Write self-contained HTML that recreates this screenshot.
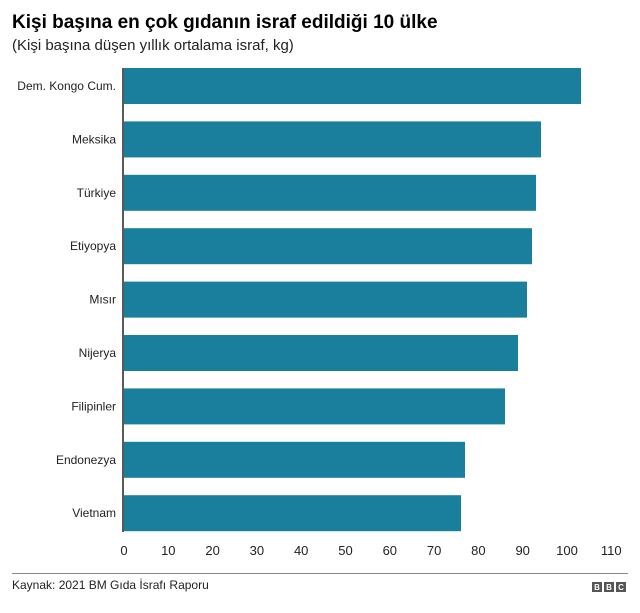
<!DOCTYPE html>
<html><head><meta charset="utf-8"><style>
body{margin:0;background:#fff;width:640px;height:608px;overflow:hidden;font-family:"Liberation Sans",Arial,sans-serif;}
</style></head><body>
<svg width="640" height="608" xmlns="http://www.w3.org/2000/svg" font-family="Liberation Sans, Arial, sans-serif">
<text x="12" y="28" font-size="19" font-weight="bold" fill="#000">Kişi başına en çok gıdanın israf edildiği 10 ülke</text>
<text x="12" y="50" font-size="15" fill="#222">(Kişi başına düşen yıllık ortalama israf, kg)</text>
<g fill="#1a7f9d">
<rect x="124" y="68" width="457" height="36"/>
<rect x="124" y="121.4" width="417" height="36"/>
<rect x="124" y="174.8" width="412" height="36"/>
<rect x="124" y="228.2" width="408" height="36"/>
<rect x="124" y="281.6" width="403" height="36"/>
<rect x="124" y="335" width="394" height="36"/>
<rect x="124" y="388.4" width="381" height="36"/>
<rect x="124" y="441.8" width="341" height="36"/>
<rect x="124" y="495.2" width="337" height="36"/>
</g>
<line x1="123" y1="68" x2="123" y2="532" stroke="#222" stroke-width="1.5"/>
<g font-size="12" fill="#222" text-anchor="end">
<text x="116" y="90">Dem. Kongo Cum.</text>
<text x="116" y="143.4">Meksika</text>
<text x="116" y="196.8">Türkiye</text>
<text x="116" y="250.2">Etiyopya</text>
<text x="116" y="303.6">Mısır</text>
<text x="116" y="357">Nijerya</text>
<text x="116" y="410.4">Filipinler</text>
<text x="116" y="463.8">Endonezya</text>
<text x="116" y="517.2">Vietnam</text>
</g>
<g font-size="13" fill="#222" text-anchor="middle">
<text x="124" y="555">0</text><text x="168.3" y="555">10</text><text x="212.6" y="555">20</text>
<text x="256.9" y="555">30</text><text x="301.2" y="555">40</text><text x="345.5" y="555">50</text>
<text x="389.8" y="555">60</text><text x="434.1" y="555">70</text><text x="478.4" y="555">80</text>
<text x="522.7" y="555">90</text><text x="567" y="555">100</text><text x="611.3" y="555">110</text>
</g>
<line x1="12" y1="573.5" x2="628" y2="573.5" stroke="#888" stroke-width="1"/>
<text x="12" y="589" font-size="12" fill="#222">Kaynak: 2021 BM Gıda İsrafı Raporu</text>
<g font-size="8" font-weight="bold" fill="#fff" text-anchor="middle">
<rect x="592" y="582" width="10" height="10" fill="#555"/><text x="597" y="590">B</text>
<rect x="604" y="582" width="10" height="10" fill="#555"/><text x="609" y="590">B</text>
<rect x="616" y="582" width="10" height="10" fill="#555"/><text x="621" y="590">C</text>
</g>
</svg>
</body></html>
